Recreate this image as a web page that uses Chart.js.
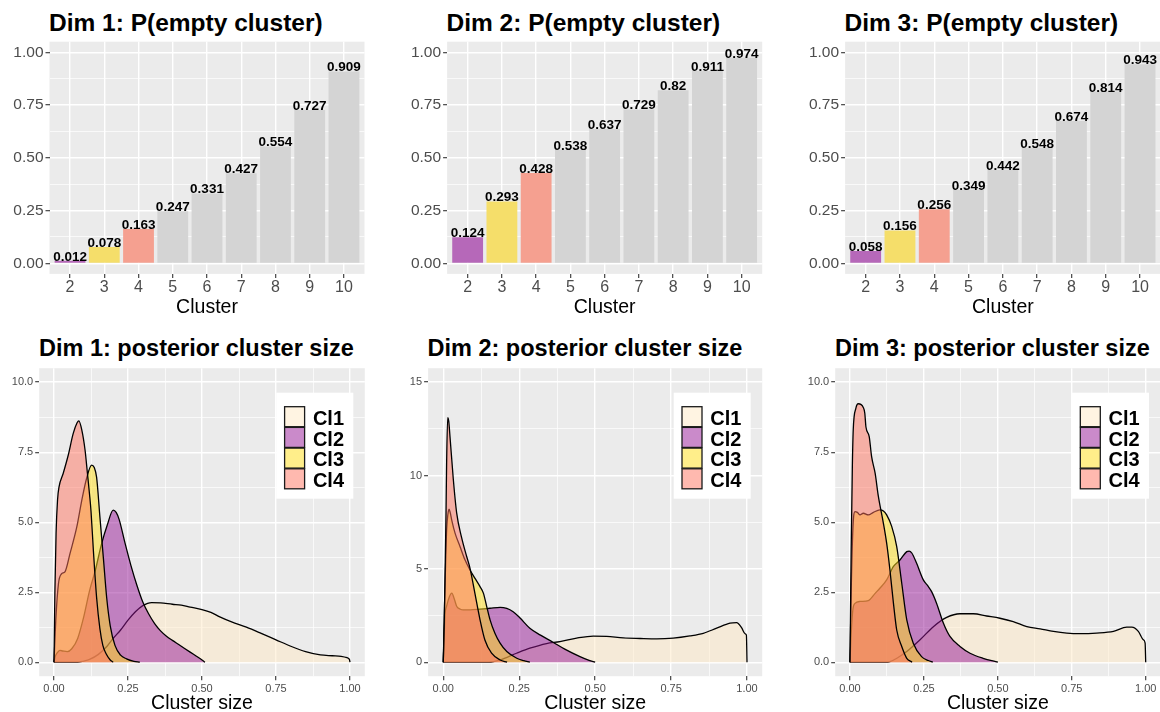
<!DOCTYPE html>
<html>
<head>
<meta charset="utf-8">
<title>Empty cluster probability and posterior cluster size</title>
<script src="https://cdn.jsdelivr.net/npm/chart.js@4.4.1/dist/chart.umd.min.js"></script>
<style>
  html, body { margin: 0; padding: 0; background: #fff; overflow: hidden; }
  body { width: 1160px; height: 712px; position: relative; font-family: "Liberation Sans", Arial, sans-serif; }
  .panel { position: absolute; }
  .ptitle { position: absolute; font-weight: bold; line-height: 1; color: #000; white-space: nowrap; }
  .top { font-size: 24.5px; top: 11px; }
  .bottom { font-size: 23.5px; top: 337px; }
</style>
</head>
<body>
<div class="ptitle top" style="left:49px">Dim 1: P(empty cluster)</div>
<div class="ptitle top" style="left:446.5px">Dim 2: P(empty cluster)</div>
<div class="ptitle top" style="left:844.5px">Dim 3: P(empty cluster)</div>
<div class="ptitle bottom" style="left:39px">Dim 1: posterior cluster size</div>
<div class="ptitle bottom" style="left:427.5px">Dim 2: posterior cluster size</div>
<div class="ptitle bottom" style="left:835px">Dim 3: posterior cluster size</div>

<div class="panel" style="left:0px; top:0px; width:365px; height:330px"><canvas id="bar1"></canvas></div>
<div class="panel" style="left:400px; top:0px; width:363px; height:330px"><canvas id="bar2"></canvas></div>
<div class="panel" style="left:798px; top:0px; width:363px; height:330px"><canvas id="bar3"></canvas></div>
<div class="panel" style="left:0px; top:330px; width:365px; height:386px"><canvas id="dens1"></canvas></div>
<div class="panel" style="left:392px; top:330px; width:371px; height:386px"><canvas id="dens2"></canvas></div>
<div class="panel" style="left:795px; top:330px; width:366px; height:386px"><canvas id="dens3"></canvas></div>

<script>
// ---- data ----
const clusters = [2, 3, 4, 5, 6, 7, 8, 9, 10];
const emptyDim1 = [0.012, 0.078, 0.163, 0.247, 0.331, 0.427, 0.554, 0.727, 0.909];
const emptyDim2 = [0.124, 0.293, 0.428, 0.538, 0.637, 0.729, 0.82, 0.911, 0.974];
const emptyDim3 = [0.058, 0.156, 0.256, 0.349, 0.442, 0.548, 0.674, 0.814, 0.943];

const probTicks = [0, 0.25, 0.5, 0.75, 1];
const probLabels = ['0.00', '0.25', '0.50', '0.75', '1.00'];
const sizeTicks = [0, 0.25, 0.5, 0.75, 1];
const sizeLabels = ['0.00', '0.25', '0.50', '0.75', '1.00'];
const densTicks10 = [0, 2.5, 5, 7.5, 10];
const densLabels10 = ['0.0', '2.5', '5.0', '7.5', '10.0'];
const densTicks15 = [0, 5, 10, 15];
const densLabels15 = ['0', '5', '10', '15'];

const seriesNames = ['Cl1', 'Cl2', 'Cl3', 'Cl4'];

// density curves, [cluster size, density]
const d1Cl1 = [[0,0],[0.08,0],[0.1,0.04],[0.12,0.1],[0.15,0.28],[0.18,0.58],[0.2,0.85],[0.225,1.15],[0.25,1.5],[0.275,1.8],[0.3,2.02],[0.33,2.13],[0.36,2.12],[0.4,2.07],[0.43,2.04],[0.46,1.97],[0.5,1.88],[0.53,1.78],[0.56,1.62],[0.6,1.44],[0.65,1.25],[0.7,1.03],[0.75,0.8],[0.8,0.57],[0.85,0.38],[0.9,0.26],[0.94,0.23],[0.97,0.21],[0.99,0.16],[0.998,0.1],[1.0,0]];
const d1Cl2 = [[0,0],[0.004,0.2],[0.01,0.32],[0.02,0.42],[0.03,0.4],[0.045,0.38],[0.06,0.48],[0.08,0.85],[0.1,1.6],[0.12,2.55],[0.14,3.3],[0.16,4.2],[0.18,4.9],[0.2,5.43],[0.21,5.35],[0.22,5.1],[0.24,4.25],[0.26,3.45],[0.28,2.75],[0.3,2.15],[0.32,1.72],[0.34,1.38],[0.36,1.12],[0.38,0.93],[0.4,0.78],[0.42,0.64],[0.44,0.5],[0.46,0.36],[0.48,0.22],[0.5,0.08],[0.51,0]];
const d1Cl3 = [[0,0],[0.006,1.5],[0.015,2.8],[0.025,3.15],[0.037,3.23],[0.054,3.88],[0.077,4.83],[0.094,5.79],[0.11,6.56],[0.127,7.04],[0.136,6.95],[0.144,6.6],[0.155,5.2],[0.167,3.7],[0.178,2.3],[0.19,1.3],[0.206,0.6],[0.225,0.25],[0.245,0.12],[0.27,0.03],[0.29,0]];
const d1Cl4 = [[0,0],[0.003,2.5],[0.007,4.6],[0.012,5.8],[0.017,6.26],[0.031,6.74],[0.048,7.39],[0.065,8.17],[0.078,8.55],[0.084,8.62],[0.094,8.29],[0.105,7.57],[0.113,6.74],[0.12,6.0],[0.125,5.4],[0.133,4.0],[0.144,2.3],[0.155,1.2],[0.165,0.6],[0.176,0.3],[0.19,0.08],[0.2,0]];

const d2Cl1 = [[0,0],[0.15,0],[0.187,0.12],[0.241,0.48],[0.285,0.75],[0.34,1.0],[0.384,1.1],[0.439,1.29],[0.494,1.4],[0.538,1.38],[0.593,1.3],[0.648,1.27],[0.703,1.25],[0.757,1.29],[0.812,1.41],[0.856,1.55],[0.9,1.82],[0.944,2.09],[0.966,2.12],[0.982,1.85],[0.994,1.52],[0.998,1.45],[1.0,0]];
const d2Cl2 = [[0,0],[0.003,1.5],[0.006,2.6],[0.011,3.0],[0.02,3.5],[0.028,3.7],[0.036,3.4],[0.044,3.0],[0.055,2.85],[0.066,2.8],[0.088,2.8],[0.121,2.84],[0.154,2.89],[0.187,2.94],[0.209,2.88],[0.23,2.7],[0.252,2.38],[0.285,1.82],[0.32,1.45],[0.36,1.08],[0.4,0.7],[0.45,0.3],[0.48,0.1],[0.5,0]];
const d2Cl3 = [[0,0],[0.004,3.0],[0.008,5.5],[0.011,7.1],[0.015,7.9],[0.019,8.2],[0.023,8.0],[0.028,7.6],[0.039,6.9],[0.055,6.2],[0.071,5.5],[0.088,4.94],[0.104,4.5],[0.121,4.05],[0.132,3.7],[0.143,2.98],[0.154,2.27],[0.17,1.55],[0.187,1.02],[0.209,0.57],[0.242,0.21],[0.265,0.08],[0.285,0]];
const d2Cl4 = [[0,0],[0.003,2.0],[0.0056,4.4],[0.009,8.0],[0.011,10.7],[0.0145,13.1],[0.018,12.9],[0.022,12.1],[0.033,9.8],[0.044,8.0],[0.06,6.7],[0.077,5.66],[0.088,5.03],[0.104,3.7],[0.121,2.27],[0.137,1.19],[0.159,0.48],[0.187,0.12],[0.21,0]];

const d3Cl1 = [[0,0],[0.12,0],[0.135,0.02],[0.16,0.15],[0.192,0.38],[0.237,0.8],[0.282,1.27],[0.327,1.6],[0.372,1.73],[0.417,1.73],[0.462,1.65],[0.507,1.57],[0.552,1.45],[0.598,1.27],[0.643,1.19],[0.688,1.1],[0.733,1.04],[0.778,1.02],[0.834,1.04],[0.891,1.1],[0.936,1.25],[0.953,1.25],[0.975,1.1],[0.992,0.8],[0.998,0.68],[1.0,0]];
const d3Cl2 = [[0,0],[0.004,1.0],[0.01,1.9],[0.017,2.1],[0.034,2.17],[0.062,2.2],[0.085,2.46],[0.101,2.64],[0.124,2.94],[0.147,3.42],[0.169,3.65],[0.192,3.95],[0.2,3.97],[0.209,3.9],[0.225,3.54],[0.248,2.94],[0.265,2.7],[0.276,2.52],[0.293,2.1],[0.316,1.39],[0.338,0.92],[0.372,0.56],[0.406,0.32],[0.45,0.14],[0.5,0]];
const d3Cl3 = [[0,0],[0.004,2.5],[0.01,4.8],[0.017,5.38],[0.025,5.35],[0.034,5.26],[0.045,5.32],[0.062,5.26],[0.079,5.35],[0.101,5.44],[0.113,5.4],[0.124,5.26],[0.141,4.85],[0.158,4.13],[0.175,2.82],[0.192,1.51],[0.214,0.68],[0.242,0.2],[0.265,0.06],[0.28,0]];
const d3Cl4 = [[0,0],[0.004,4.0],[0.008,7.0],[0.011,8.3],[0.02,9.07],[0.028,9.23],[0.045,9.1],[0.05,8.9],[0.054,8.4],[0.065,8.06],[0.073,7.35],[0.085,6.75],[0.096,5.92],[0.113,4.96],[0.124,4.25],[0.135,3.3],[0.147,2.1],[0.158,1.15],[0.175,0.56],[0.192,0.14],[0.21,0]];

// ---- styling ----
const FONT = '"Liberation Sans", Arial, sans-serif';
const barColors = ['#b668b9', '#f5de6a', '#f5a090', '#d4d4d4', '#d4d4d4', '#d4d4d4', '#d4d4d4', '#d4d4d4', '#d4d4d4'];
const seriesFill = ['rgba(255,233,197,0.5)', 'rgba(149,21,149,0.5)', 'rgba(255,221,21,0.5)', 'rgba(255,115,95,0.5)'];

// grey panel like ggplot
const panelBg = {
    id: 'panelBg',
    beforeDraw(chart) {
        const a = chart.chartArea;
        const ctx = chart.ctx;
        ctx.save();
        ctx.fillStyle = '#ebebeb';
        ctx.fillRect(a.left, a.top, a.right - a.left, a.bottom - a.top);
        ctx.restore();
    }
};

// value printed on top of each bar
const barValueLabels = {
    id: 'barValueLabels',
    afterDatasetsDraw(chart) {
        const ctx = chart.ctx;
        const meta = chart.getDatasetMeta(0);
        const pts = chart.data.datasets[0].data;
        ctx.save();
        ctx.font = 'bold 13.5px ' + FONT;
        ctx.fillStyle = '#000';
        ctx.textAlign = 'center';
        ctx.textBaseline = 'alphabetic';
        meta.data.forEach((bar, i) => {
            ctx.fillText(String(pts[i].y), bar.x, bar.y);
        });
        ctx.restore();
    }
};

// legend box inside the panel, top right
const densityLegend = {
    id: 'densityLegend',
    afterDatasetsDraw(chart) {
        const a = chart.chartArea;
        const ctx = chart.ctx;
        const w = 77, h = 106;
        const left = a.right - 11.5 - w;
        const top = a.top + 24.5;
        ctx.save();
        ctx.fillStyle = '#fff';
        ctx.fillRect(left, top, w, h);
        ctx.font = 'bold 20px ' + FONT;
        ctx.textBaseline = 'alphabetic';
        ctx.textAlign = 'left';
        seriesNames.forEach((name, i) => {
            const sy = top + 14 + i * 20.7;
            ctx.fillStyle = seriesFill[i];
            ctx.fillRect(left + 8.3, sy, 20, 20);
            ctx.strokeStyle = '#1a1a1a';
            ctx.lineWidth = 1.3;
            ctx.strokeRect(left + 8.3, sy, 20, 20);
            ctx.fillStyle = '#000';
            ctx.fillText(name, left + 36.6, sy + 18.3);
        });
        ctx.restore();
    }
};

function withMinor(major) {
    const out = [];
    major.forEach((v, i) => {
        out.push({ value: v });
        if (i < major.length - 1) out.push({ value: (v + major[i + 1]) / 2, minor: true });
    });
    return out;
}

function gridStyle() {
    return {
        color: '#ffffff',
        lineWidth: ctx => (ctx.tick && ctx.tick.minor ? 0.7 : 1.4),
        tickColor: ctx => (ctx.tick && ctx.tick.minor ? 'rgba(0,0,0,0)' : '#333333'),
        tickWidth: 1.1,
        tickLength: 4,
        offset: false
    };
}

function valueAxis(min, max, major, labels, fontSize, width) {
    return {
        type: 'linear',
        min: min,
        max: max,
        afterBuildTicks: scale => { scale.ticks = withMinor(major); },
        afterFit: scale => { scale.width = width; },
        ticks: {
            autoSkip: false,
            padding: 2,
            color: '#4d4d4d',
            font: { family: FONT, size: fontSize },
            callback: (value, index, ticks) => {
                if (ticks[index].minor) return '';
                return labels[major.indexOf(value)];
            }
        },
        grid: gridStyle(),
        border: { display: false }
    };
}

function barChart(id, values, yWidth, padRight) {
    return new Chart(document.getElementById(id), {
        type: 'bar',
        data: {
            datasets: [{
                data: clusters.map((c, i) => ({ x: c, y: values[i] })),
                backgroundColor: barColors,
                borderWidth: 0,
                barPercentage: 0.9,
                categoryPercentage: 1
            }]
        },
        options: {
            responsive: true,
            maintainAspectRatio: false,
            animation: false,
            layout: { padding: { top: 41.7, right: padRight, left: 0, bottom: 0 } },
            plugins: { legend: { display: false }, tooltip: { enabled: false } },
            scales: {
                x: {
                    type: 'linear',
                    min: 1.4,
                    max: 10.6,
                    offset: false,
                    afterBuildTicks: scale => { scale.ticks = clusters.map(c => ({ value: c })); },
                    afterFit: scale => { scale.height = 56.1; },
                    ticks: {
                        autoSkip: false,
                        maxRotation: 0,
                        padding: 0,
                        color: '#4d4d4d',
                        font: { family: FONT, size: 16 },
                        callback: value => String(value)
                    },
                    grid: gridStyle(),
                    border: { display: false },
                    title: {
                        display: true,
                        text: 'Cluster',
                        color: '#000',
                        font: { family: FONT, size: 19.5 },
                        padding: { top: 0, bottom: 11 }
                    }
                },
                y: valueAxis(-0.05, 1.05, probTicks, probLabels, 15.5, yWidth)
            }
        },
        plugins: [panelBg, barValueLabels]
    });
}

function densityChart(id, curves, yMax, yTicks, yLabels, yWidth, padRight) {
    const ySpan = yTicks[yTicks.length - 1];
    return new Chart(document.getElementById(id), {
        type: 'line',
        data: {
            datasets: curves.map((curve, i) => ({
                label: seriesNames[i],
                data: curve,
                order: curves.length - i,
                backgroundColor: seriesFill[i],
                borderColor: '#000',
                borderWidth: 1.3,
                fill: 'origin',
                pointRadius: 0,
                tension: 0.4,
                cubicInterpolationMode: 'monotone'
            }))
        },
        options: {
            responsive: true,
            maintainAspectRatio: false,
            animation: false,
            layout: { padding: { top: 38.2, right: padRight, left: 0, bottom: 0 } },
            plugins: { legend: { display: false }, tooltip: { enabled: false } },
            scales: {
                x: Object.assign(valueAxis(-0.05, 1.05, sizeTicks, sizeLabels, 11, 0), {
                    afterFit: scale => { scale.height = 39.8; },
                    title: {
                        display: true,
                        text: 'Cluster size',
                        color: '#000',
                        font: { family: FONT, size: 19.5 },
                        padding: { top: 0, bottom: 0.5 }
                    }
                }),
                y: valueAxis(-0.05 * ySpan, yMax + 0.05 * ySpan, yTicks, yLabels, 11, yWidth)
            }
        },
        plugins: [panelBg, densityLegend]
    });
}

barChart('bar1', emptyDim1, 49.5, 0.5);
barChart('bar2', emptyDim2, 47.1, 0.8);
barChart('bar3', emptyDim3, 47.1, 0.4);

densityChart('dens1', [d1Cl1, d1Cl2, d1Cl3, d1Cl4], 10, densTicks10, densLabels10, 39.2, 0.2);
densityChart('dens2', [d2Cl1, d2Cl2, d2Cl3, d2Cl4], 15, densTicks15, densLabels15, 36.1, 0.8);
densityChart('dens3', [d3Cl1, d3Cl2, d3Cl3, d3Cl4], 10, densTicks10, densLabels10, 40.2, 0.5);
</script>
</body>
</html>
